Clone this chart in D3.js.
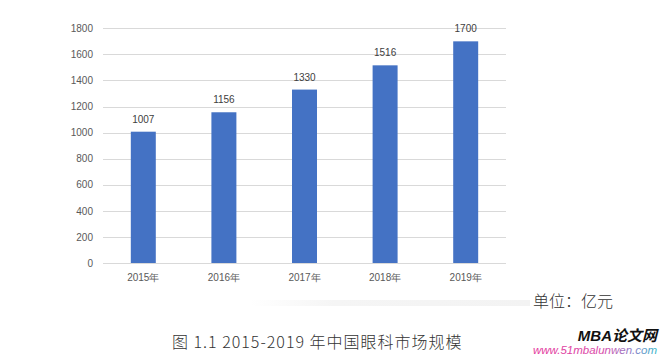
<!DOCTYPE html>
<html><head><meta charset="utf-8">
<script src="https://cdn.jsdelivr.net/npm/d3@7/dist/d3.min.js"></script>
<style>body{margin:0;background:#fff;}svg{display:block;}</style>
</head><body>
<script>
const categories = ["2015年","2016年","2017年","2018年","2019年"];
const values = [1007,1156,1330,1516,1700];
const yTicks = [0,200,400,600,800,1000,1200,1400,1600,1800];

const W = 661, H = 356;
const svg = d3.select("body").append("svg").attr("width", W).attr("height", H);
const defs = svg.append("defs");
const shade = defs.append("linearGradient").attr("id","shade").attr("x1",0).attr("y1",0).attr("x2",1).attr("y2",0);
shade.append("stop").attr("offset","0%").attr("stop-color","#ffffff");
shade.append("stop").attr("offset","30%").attr("stop-color","#f5f5f5");
shade.append("stop").attr("offset","100%").attr("stop-color","#f3f3f3");
const wm = defs.append("linearGradient").attr("id","wm").attr("x1",0).attr("y1",0).attr("x2",1).attr("y2",0);
wm.append("stop").attr("offset","0%").attr("stop-color","#e2399b");
wm.append("stop").attr("offset","55%").attr("stop-color","#d94ba8");
wm.append("stop").attr("offset","80%").attr("stop-color","#8e7fc8");
wm.append("stop").attr("offset","100%").attr("stop-color","#3bb7c9");

// faint bottom shadow of the chart frame
svg.append("rect").attr("x",250).attr("y",300).attr("width",280).attr("height",6).attr("fill","url(#shade)");

const x = d3.scaleBand().domain(categories).range([103, 506]).paddingInner(0.69).paddingOuter(0.345);
const y = d3.scaleLinear().domain([0,1800]).range([263, 28.3]);

const font = "'Liberation Sans', Arial, sans-serif";

// gridlines
svg.append("g").selectAll("line").data(yTicks.filter(d=>d>0)).join("line")
  .attr("x1",103).attr("x2",506).attr("y1",d=>Math.round(y(d))+0.5).attr("y2",d=>Math.round(y(d))+0.5)
  .attr("stroke","#d9d9d9").attr("stroke-width",1);

// y axis labels
const yAxis = svg.append("g").attr("transform","translate(93,0)")
  .call(d3.axisLeft(y).tickValues(yTicks).tickFormat(d3.format("d")).tickSize(0).tickPadding(0));
yAxis.select(".domain").remove();
yAxis.selectAll("text").attr("fill","#595959").attr("font-size","10px").attr("font-family",font);

// bars
svg.append("g").selectAll("rect").data(values).join("rect")
  .attr("x",(d,i)=>x(categories[i])).attr("width",x.bandwidth())
  .attr("y",d=>y(d)).attr("height",d=>y(0)-y(d)).attr("fill","#4472C4");

// baseline
svg.append("line").attr("x1",103).attr("x2",506).attr("y1",263.5).attr("y2",263.5).attr("stroke","#d9d9d9");

// x axis labels
const xAxis = svg.append("g").attr("transform","translate(0,263)")
  .call(d3.axisBottom(x).tickSize(0).tickPadding(11));
xAxis.select(".domain").remove();
xAxis.selectAll("text").attr("fill","#595959").attr("font-size","10px").attr("font-family",font);

// value labels
svg.append("g").selectAll("text").data(values).join("text")
  .attr("x",(d,i)=>x(categories[i])+x.bandwidth()/2).attr("y",d=>y(d)-9)
  .attr("text-anchor","middle").attr("fill","#404040").attr("font-size","10px").attr("font-family",font)
  .text(d=>d);

// unit
svg.append("text").attr("x",533).attr("y",307).attr("fill","#333").attr("font-size","16px")
  .attr("font-family","'Noto Sans CJK SC', sans-serif").attr("font-weight",300).text("单位：亿元");

// caption
svg.append("text").attr("x",172).attr("y",348).attr("fill","#333").attr("font-size","16px")
  .attr("letter-spacing","1px")
  .attr("font-family","'Noto Sans CJK SC', sans-serif").attr("font-weight",300).text("图 1.1  2015-2019 年中国眼科市场规模");

// watermark
svg.append("text").attr("x",657).attr("y",341).attr("text-anchor","end").attr("fill","#111")
  .attr("font-size","15px").attr("font-weight","bold").attr("font-style","italic")
  .attr("font-family","'Liberation Sans', 'Noto Sans CJK SC', sans-serif").text("MBA论文网");
svg.append("text").attr("x",657).attr("y",354).attr("text-anchor","end").attr("fill","url(#wm)")
  .attr("font-size","11.5px").attr("font-style","italic")
  .attr("font-family","'Liberation Sans', Arial, sans-serif").text("www.51mbalunwen.com");
</script>
</body></html>
